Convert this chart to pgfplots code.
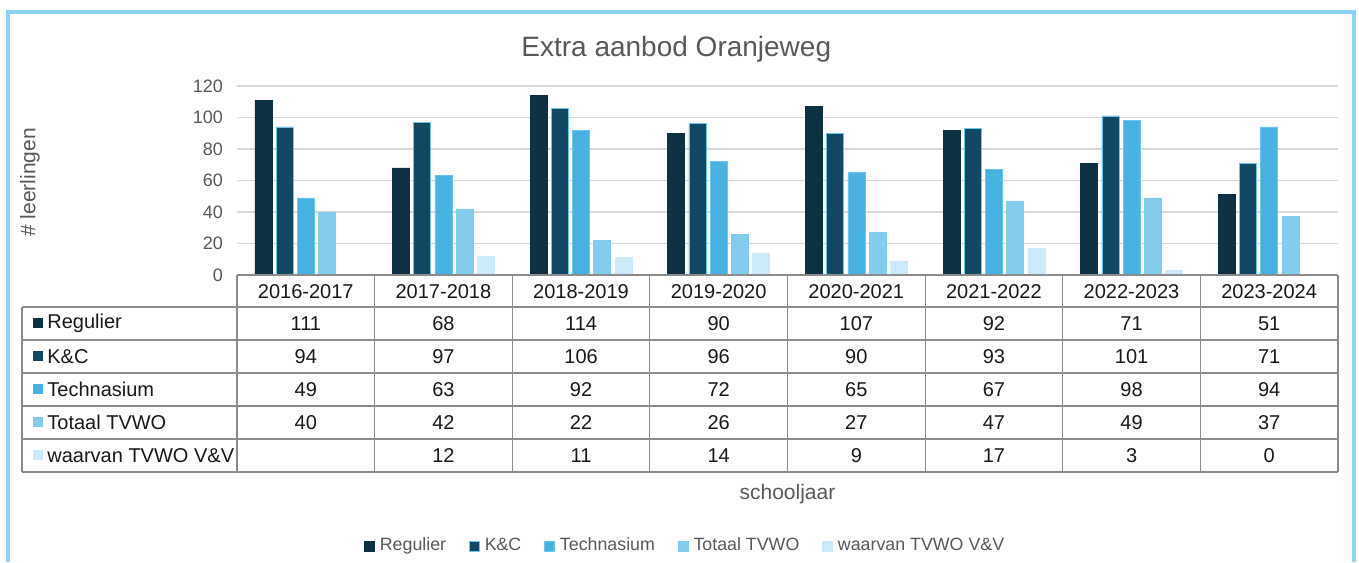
\documentclass[border=0pt]{standalone}
\usepackage{pgfplots}
\pgfplotsset{compat=1.18}
\usepackage{fontspec}
\setmainfont{Liberation Sans}
\definecolor{cReg}{HTML}{0D3142}
\definecolor{cKC}{HTML}{124864}
\definecolor{cTech}{HTML}{47B1E1}
\definecolor{cTot}{HTML}{83CCEC}
\definecolor{cVV}{HTML}{CDEAFA}
\definecolor{txtgray}{HTML}{595959}
\definecolor{gridgray}{HTML}{D9D9D9}
\definecolor{tabline}{HTML}{8C8C8C}
\definecolor{framecol}{HTML}{8ED3F4}
\definecolor{edgeblue}{HTML}{6CC6EE}
\begin{document}
\begin{tikzpicture}
\useasboundingbox (0,0) rectangle (679.5pt,281pt);
\begin{axis}[
  at={(118.5pt,143.5pt)}, anchor=south west,
  scale only axis, width=550.5pt, height=94.5pt,
  xmin=-0.5, xmax=7.5, ymin=0, ymax=120,
  ybar=2.1pt, bar width=8.5pt,
  every axis plot post/.append style={legend image code/.code={\draw[##1,line width=0.3pt] (0pt,-2.5pt) rectangle (5pt,2.5pt);}},
  axis line style={draw=none},
  ytick={0,20,...,120},
  ymajorgrids, grid style={draw=gridgray, line width=0.7pt},
  ytick style={draw=none}, xtick style={draw=none},
  xtick={0,...,7},
  xticklabels={2016-2017,2017-2018,2018-2019,2019-2020,2020-2021,2021-2022,2022-2023,2023-2024},
  xticklabel style={anchor=center, yshift=-4.25pt, font=\fontsize{10}{12}\selectfont, text=black!90},
  /pgf/number format/assume math mode=true,
  yticklabel style={font=\fontsize{9}{11}\selectfont, text=txtgray, xshift=-3.5pt},
  ylabel={\# leerlingen},
  ylabel style={at={(axis description cs:-0.188,0.49)}, anchor=center, font=\fontsize{10.5}{12}\selectfont, text=txtgray},
  xlabel={schooljaar},
  xlabel style={at={(axis description cs:0.5,-1.158)}, anchor=center, font=\fontsize{10.5}{12}\selectfont, text=txtgray},
  title={Extra aanbod Oranjeweg},
  title style={at={(axis description cs:0.399,1.130)}, anchor=center, font=\fontsize{14}{16}\selectfont, text=txtgray},
  legend style={at={(axis description cs:0.408,-1.434)}, anchor=center, draw=none, fill=none,
    font=\fontsize{8.9}{10}\selectfont, text=txtgray, legend columns=5,
    /tikz/every even column/.append style={column sep=9.5pt},
    /tikz/every odd column/.append style={column sep=0.5pt}},
  clip=false,
]
\addplot[fill=cReg, draw=cReg, line width=0.3pt] coordinates {(0,111) (1,68) (2,114) (3,90) (4,107) (5,92) (6,71) (7,51)};
\addplot[fill=cKC, draw=edgeblue, line width=0.3pt] coordinates {(0,94) (1,97) (2,106) (3,96) (4,90) (5,93) (6,101) (7,71)};
\addplot[fill=cTech, draw=edgeblue, line width=0.3pt] coordinates {(0,49) (1,63) (2,92) (3,72) (4,65) (5,67) (6,98) (7,94)};
\addplot[fill=cTot, draw=cTot, line width=0.3pt] coordinates {(0,40) (1,42) (2,22) (3,26) (4,27) (5,47) (6,49) (7,37)};
\addplot[fill=cVV, draw=cVV, line width=0.3pt] coordinates {(1,12) (2,11) (3,14) (4,9) (5,17) (6,3) (7,0)};
\legend{Regulier,K\&C,Technasium,Totaal TVWO,waarvan TVWO V\&V}
\end{axis}
\begin{scope}[x=0.5pt,y=-0.5pt,shift={(0pt,281pt)}]
  \draw[framecol, line width=1.6pt] (8,562) -- (8,12) -- (1354,12) -- (1354,562);
  \draw[tabline, line width=0.6pt] (237,275) -- (1338,275);
  \foreach \yy in {307,340,373,406,439,472} \draw[tabline, line width=0.6pt] (22,\yy) -- (1338,\yy);
  \draw[tabline, line width=0.6pt] (22,307) -- (22,472);
  \foreach \k in {0,...,8} \draw[tabline, line width=0.6pt] ({237+137.625*\k},275) -- ({237+137.625*\k},472);
  \foreach \cy/\col/\lab in {323.5/cReg/Regulier,356.5/cKC/K\&C,389.5/cTech/Technasium,422.5/cTot/Totaal TVWO,455.5/cVV/waarvan TVWO V\&V} {
    \fill[\col] (33,\cy-5) rectangle (43,\cy+5);
    \node[anchor=west, inner sep=0pt, font=\fontsize{10}{12}\selectfont, text=black!90] at (47,\cy) {\lab};
  }
  \foreach \cy/\vals in {323.5/{111,68,114,90,107,92,71,51},356.5/{94,97,106,96,90,93,101,71},389.5/{49,63,92,72,65,67,98,94},422.5/{40,42,22,26,27,47,49,37},455.5/{,12,11,14,9,17,3,0}} {
    \foreach \v [count=\i from 0] in \vals {
      \node[font=\fontsize{10}{12}\selectfont, inner sep=0pt, text=black!90] at ({237+137.625*(\i+0.5)},\cy) {\v};
    }
  }
\end{scope}
\end{tikzpicture}
\end{document}
